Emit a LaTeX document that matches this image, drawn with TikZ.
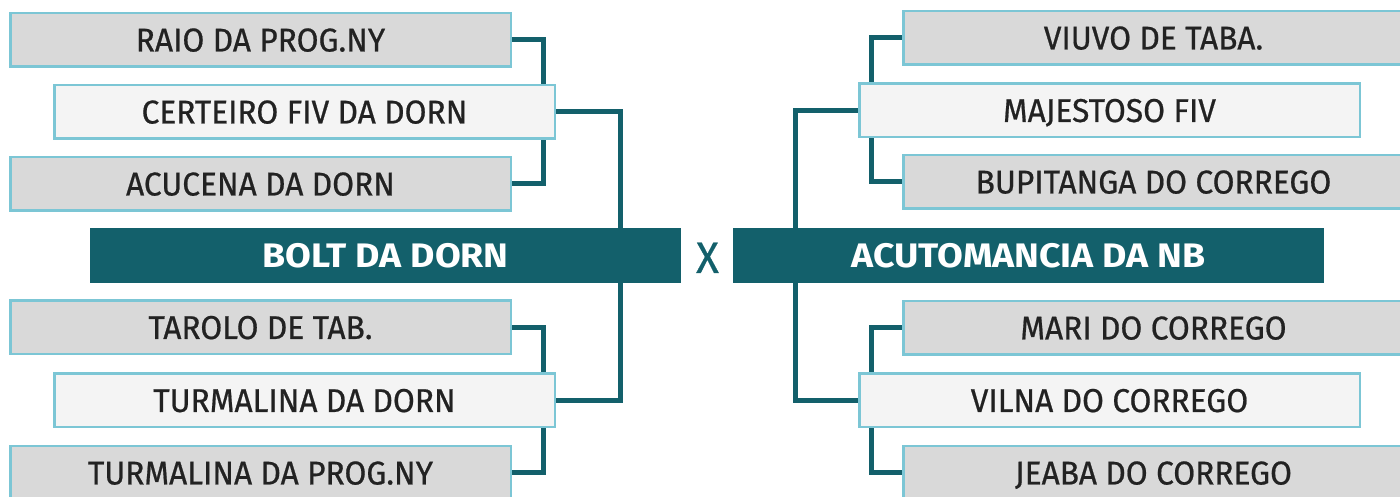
\documentclass[tikz,border=0pt]{standalone}
\usepackage{fontspec}
\setmainfont{Fira Sans}[UprightFeatures={FakeStretch=0.96,FakeBold=0.6},BoldFeatures={FakeStretch=1.1}]
\usetikzlibrary{positioning,backgrounds}
\definecolor{petrol}{HTML}{13606B}
\definecolor{edge}{HTML}{7CC6D5}
\definecolor{boxgray}{HTML}{D9D9D9}
\definecolor{boxlight}{HTML}{F4F4F4}
\definecolor{ink}{HTML}{222222}
\begin{document}
\begin{tikzpicture}[x=1pt,y=1pt,
  grand/.style={draw=edge,line width=2.5pt,fill=boxgray,minimum width=500.5pt,minimum height=53.5pt,inner sep=0pt,text=ink,text height=23pt,text depth=0pt,font=\fontsize{33}{36}\selectfont},
  sire/.style={grand,fill=boxlight},
  champ/.style={fill=petrol,minimum width=591pt,minimum height=55pt,inner sep=0pt,text=white,text height=24pt,text depth=0pt,font=\fontsize{34}{36}\selectfont\bfseries},
  link/.style={draw=petrol,line width=5pt}]
\useasboundingbox (0,0) rectangle (1400,497);
% left side
\node[grand] (raio) at (260.5,457) {RAIO DA PROG.NY};
\node[sire] (certeiro) at (304.5,385) {CERTEIRO FIV DA DORN};
\node[grand] (acucena) at (260.5,313) {ACUCENA DA DORN};
\node[champ] (bolt) at (385.5,241.5) {BOLT DA DORN};
\node[grand] (tarolo) at (260.5,169.5) {TAROLO DE TAB.};
\node[sire] (turmdorn) at (304.5,96.5) {TURMALINA DA DORN};
\node[grand] (turmprog) at (260.5,24) {TURMALINA DA PROG.NY};
% right side
\node[grand] (viuvo) at (1153.5,459) {VIUVO DE TABA.};
\node[sire] (majestoso) at (1109.5,386.5) {MAJESTOSO FIV};
\node[grand] (bupitanga) at (1153.5,315) {BUPITANGA DO CORREGO};
\node[champ] (acuto) at (1028.5,241.5) {ACUTOMANCIA DA NB};
\node[grand] (mari) at (1153.5,169) {MARI DO CORREGO};
\node[sire] (vilna) at (1109.5,96.5) {VILNA DO CORREGO};
\node[grand] (jeaba) at (1153.5,24) {JEABA DO CORREGO};
\node[text=petrol,font=\fontsize{44}{44}\selectfont,text height=32pt,text depth=0pt,inner sep=0pt] (versus) at (707.5,240) {X};
% brackets
\begin{scope}[on background layer]
\draw[link] (raio.east) -- ++(31,0) |- (acucena.east);
\draw[link] (certeiro.east) -| ([xshift=234.5pt]bolt.north);
\draw[link] (tarolo.east) -- ++(31,0) |- (turmprog.east);
\draw[link] (turmdorn.east) -| ([xshift=234.5pt]bolt.south);
\draw[link] (viuvo.west) -- ++(-31,0) |- (bupitanga.west);
\draw[link] (majestoso.west) -| ([xshift=-233.5pt]acuto.north);
\draw[link] (mari.west) -- ++(-31,0) |- (jeaba.west);
\draw[link] (vilna.west) -| ([xshift=-233.5pt]acuto.south);
\end{scope}
\end{tikzpicture}
\end{document}
